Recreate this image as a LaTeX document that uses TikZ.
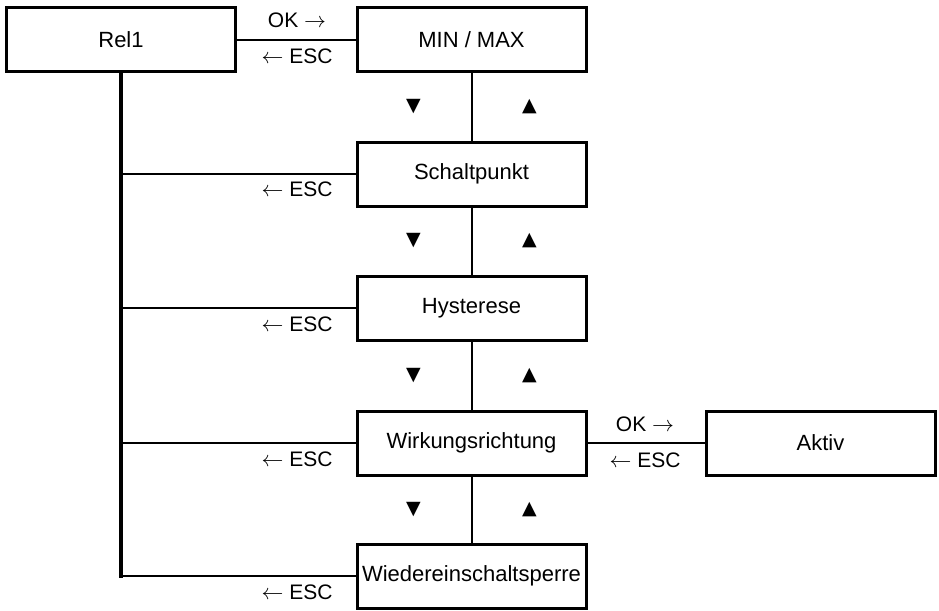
\documentclass[tikz,border=0pt]{standalone}
\usepackage{fontspec}
\setmainfont{Liberation Sans}
\newfontfamily\symfont{DejaVu Sans}
\usepackage{tikz}
\usetikzlibrary{calc}
\usetikzlibrary{positioning}

\tikzset{
	menubox/.style={draw, line width=1.5pt, minimum width=114.5pt, minimum height=32pt, inner sep=0pt, font=\fontsize{11}{13}\selectfont},
	keylabel/.style={inner sep=0pt, font=\fontsize{10.5}{12}\selectfont},
	dirmark/.style={inner sep=0pt, font=\symfont\fontsize{9.5}{10}\selectfont},
	link/.style={line width=1pt},
	trunk/.style={line width=1.6pt, line cap=rect}
}
\newcommand{\okKey}{OK $\rightarrow$}
\newcommand{\escKey}{$\leftarrow$ ESC}

\begin{document}
\begin{tikzpicture}[x=0.5pt, y=-0.5pt]
	\useasboundingbox (0,0) rectangle (939,611);

		\node [menubox] (rel) at (121,39.5) {Rel1};
		\node [menubox] (minmax) at (471.5,39.5) {MIN / MAX};
		\node [menubox] (schalt) at (471.5,174) {Schaltpunkt};
		\node [menubox] (hyst) at (471.5,308) {Hysterese};
		\node [menubox] (wirk) at (471.5,443) {Wirkungsrichtung};
		\node [menubox] (wied) at (471.5,576) {Wiedereinschaltsperre};
		\node [menubox] (aktiv) at (820.5,443) {Aktiv};

		% OK / ESC between neighbours
		\draw [link] (rel.east) -- (minmax.west);
		\draw [link] (wirk.east) -- (aktiv.west);
		\node [keylabel] (okrel) at (297,20) {\okKey};
		\node [keylabel] (escrel) at (297,56) {\escKey};
		\node [keylabel] (okwirk) at (645,424) {\okKey};
		\node [keylabel] (escwirk) at (645,460) {\escKey};

		% menu chain
		\draw [link] (minmax.south) -- (schalt.north);
		\draw [link] (schalt.south) -- (hyst.north);
		\draw [link] (hyst.south) -- (wirk.north);
		\draw [link] (wirk.south) -- (wied.north);

		\node [dirmark] (dnA) at ($(minmax.south)!0.5!(schalt.north)+(-58,0)$) {▼};
		\node [dirmark] (upA) at ($(minmax.south)!0.5!(schalt.north)+(58,0)$) {▲};
		\node [dirmark] (dnB) at ($(schalt.south)!0.5!(hyst.north)+(-58,0)$) {▼};
		\node [dirmark] (upB) at ($(schalt.south)!0.5!(hyst.north)+(58,0)$) {▲};
		\node [dirmark] (dnC) at ($(hyst.south)!0.5!(wirk.north)+(-58,0)$) {▼};
		\node [dirmark] (upC) at ($(hyst.south)!0.5!(wirk.north)+(58,0)$) {▲};
		\node [dirmark] (dnD) at ($(wirk.south)!0.5!(wied.north)+(-58,0)$) {▼};
		\node [dirmark] (upD) at ($(wirk.south)!0.5!(wied.north)+(58,0)$) {▲};

		% ESC back to Rel1
		\coordinate (trunkend) at (rel.south |- wied.west);
		\draw [trunk] (rel.south) -- (trunkend);
		\draw [link] (rel.south |- schalt.west) -- (schalt.west);
		\draw [link] (rel.south |- hyst.west) -- (hyst.west);
		\draw [link] (rel.south |- wirk.west) -- (wirk.west);
		\draw [link] (trunkend) -- (wied.west);
		\node [keylabel] (escschalt) at (297,189) {\escKey};
		\node [keylabel] (eschyst) at (297,324) {\escKey};
		\node [keylabel] (escwirkb) at (297,459) {\escKey};
		\node [keylabel] (escwied) at (297,592) {\escKey};
	\end{tikzpicture}
\end{document}
